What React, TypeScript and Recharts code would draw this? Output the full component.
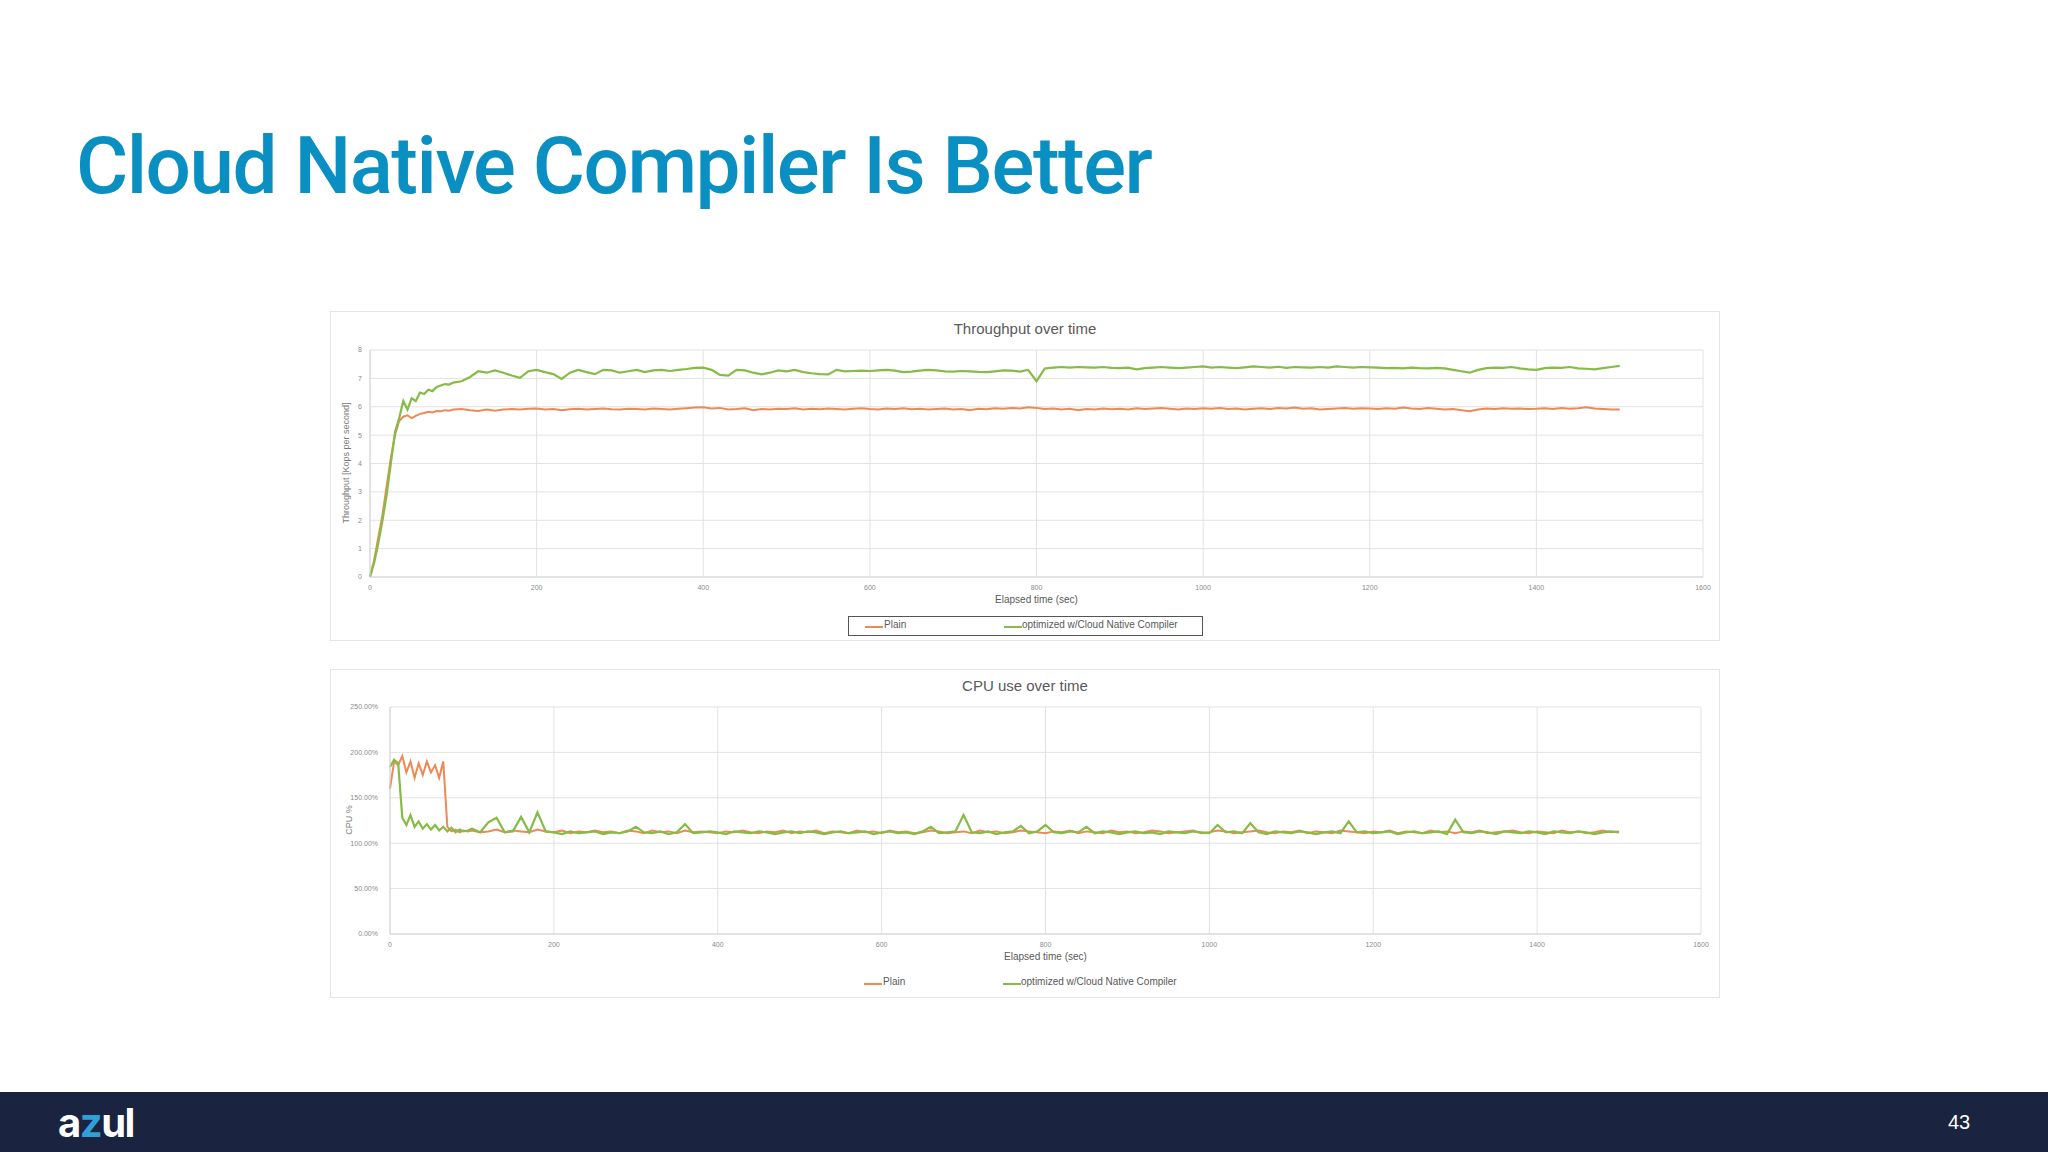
import { LineChart, Line, XAxis, YAxis, CartesianGrid } from "recharts";

// elapsed seconds (5s steps for the ramp-up, then 10s)
const secs = [
  0, 5, 10, 15, 20, 25, 30, 35, 40, 45, 50, 55, 60, 65, 70, 75, 80, 85, 90, 95,
  100, 110, 120, 130, 140, 150, 160, 170, 180, 190,
  200, 210, 220, 230, 240, 250, 260, 270, 280, 290,
  300, 310, 320, 330, 340, 350, 360, 370, 380, 390,
  400, 410, 420, 430, 440, 450, 460, 470, 480, 490,
  500, 510, 520, 530, 540, 550, 560, 570, 580, 590,
  600, 610, 620, 630, 640, 650, 660, 670, 680, 690,
  700, 710, 720, 730, 740, 750, 760, 770, 780, 790,
  800, 810, 820, 830, 840, 850, 860, 870, 880, 890,
  900, 910, 920, 930, 940, 950, 960, 970, 980, 990,
  1000, 1010, 1020, 1030, 1040, 1050, 1060, 1070, 1080, 1090,
  1100, 1110, 1120, 1130, 1140, 1150, 1160, 1170, 1180, 1190,
  1200, 1210, 1220, 1230, 1240, 1250, 1260, 1270, 1280, 1290,
  1300, 1310, 1320, 1330, 1340, 1350, 1360, 1370, 1380, 1390,
  1400, 1410, 1420, 1430, 1440, 1450, 1460, 1470, 1480, 1490,
  1500,
];

// throughput, Kops per second
const tputPlain = [
  0, 0.6, 1.4, 2.2, 3.2, 4.2, 5.0, 5.5, 5.65, 5.7, 5.6, 5.68, 5.75, 5.78, 5.82, 5.8, 5.85, 5.84, 5.88, 5.86,
  5.9, 5.92, 5.88, 5.85, 5.9, 5.86, 5.9, 5.92, 5.9, 5.93,
  5.94, 5.9, 5.92, 5.88, 5.91, 5.93, 5.9, 5.92, 5.94, 5.91,
  5.9, 5.93, 5.92, 5.9, 5.94, 5.92, 5.9, 5.93, 5.95, 5.97,
  5.98, 5.94, 5.96, 5.9, 5.92, 5.95, 5.88, 5.92, 5.9, 5.93,
  5.92, 5.95, 5.9, 5.93, 5.91, 5.94, 5.92, 5.9, 5.93, 5.95,
  5.92, 5.9, 5.94, 5.92, 5.95, 5.91, 5.93, 5.9, 5.92, 5.94,
  5.9, 5.92, 5.88, 5.93, 5.91, 5.95, 5.93, 5.96, 5.94, 5.98,
  5.96, 5.92, 5.94, 5.9, 5.93, 5.88, 5.92, 5.9, 5.94, 5.91,
  5.93, 5.9, 5.95, 5.92, 5.94, 5.96, 5.93, 5.9, 5.94, 5.92,
  5.95, 5.93, 5.96, 5.92, 5.94, 5.9, 5.93, 5.95, 5.92, 5.96,
  5.94, 5.97, 5.93, 5.95, 5.9, 5.92, 5.94, 5.96, 5.93, 5.95,
  5.94, 5.92, 5.95, 5.93, 5.97, 5.94, 5.92, 5.96, 5.93, 5.9,
  5.92, 5.88, 5.84, 5.9, 5.94, 5.92, 5.95, 5.93, 5.94, 5.92,
  5.93, 5.95, 5.92, 5.96, 5.93, 5.95, 5.98, 5.94, 5.92, 5.9,
  5.9,
];

const tputOpt = [
  0, 0.5, 1.2, 2.0, 2.9, 4.0, 5.1, 5.6, 6.2, 5.9, 6.3, 6.2, 6.5, 6.45, 6.6, 6.55, 6.7, 6.75, 6.8, 6.78,
  6.85, 6.9, 7.05, 7.25, 7.2, 7.28, 7.2, 7.1, 7.02, 7.25,
  7.3, 7.22, 7.15, 6.98, 7.2, 7.3, 7.22, 7.15, 7.3, 7.28,
  7.2, 7.25, 7.3, 7.22, 7.28, 7.3, 7.26, 7.3, 7.33, 7.37,
  7.38, 7.3, 7.12, 7.1, 7.3, 7.28, 7.2, 7.14, 7.2, 7.28,
  7.25, 7.3, 7.22, 7.18, 7.15, 7.14, 7.3, 7.25, 7.26, 7.27,
  7.26, 7.28, 7.3, 7.27, 7.22, 7.24, 7.27, 7.3, 7.28, 7.25,
  7.24, 7.26, 7.25, 7.23, 7.22, 7.25, 7.28, 7.27, 7.24, 7.3,
  6.9, 7.35, 7.38, 7.4, 7.38, 7.4, 7.39, 7.38, 7.4, 7.37,
  7.36, 7.38, 7.32, 7.36, 7.38, 7.4, 7.38, 7.36, 7.38, 7.4,
  7.42, 7.38, 7.4, 7.38, 7.36, 7.39, 7.42, 7.4, 7.38, 7.41,
  7.37, 7.4, 7.39, 7.38, 7.4, 7.38, 7.42, 7.4, 7.38, 7.4,
  7.39, 7.38, 7.36, 7.37, 7.35, 7.38, 7.36, 7.35, 7.37, 7.35,
  7.3, 7.25, 7.2, 7.3, 7.36, 7.38, 7.37, 7.4, 7.35, 7.32,
  7.3, 7.36, 7.38, 7.37, 7.4, 7.35, 7.34, 7.32, 7.36, 7.4,
  7.44,
];

// CPU %
const cpuPlain = [
  160, 190, 186, 196, 178, 190, 172, 188, 175, 190, 178, 186, 172, 190, 118, 113, 115, 112, 114, 113,
  114, 112, 113, 115, 112, 114, 113, 112, 115, 113,
  112, 114, 111, 113, 112, 114, 112, 113, 111, 114,
  113, 111, 114, 112, 113, 111, 114, 112, 113, 112,
  111, 113, 112, 114, 112, 111, 113, 112, 114, 111,
  113, 112, 114, 111, 113, 112, 111, 114, 112, 113,
  111, 114, 112, 113, 111, 112, 114, 113, 111, 112,
  113, 111, 114, 112, 113, 111, 112, 114, 113, 112,
  111, 113, 112, 114, 111, 113, 112, 111, 114, 112,
  113, 111, 112, 114, 113, 111, 112, 113, 114, 111,
  112, 114, 113, 111, 112, 113, 114, 112, 111, 113,
  112, 114, 111, 113, 112, 111, 114, 113, 112, 111,
  113, 112, 114, 111, 113, 112, 111, 114, 112, 113,
  111, 113, 112, 114, 111, 112, 113, 114, 112, 111,
  113, 112, 111, 114, 112, 113, 111, 112, 114, 112,
  113,
];

const cpuOpt = [
  184, 192, 188, 128, 120, 131, 118, 124, 116, 121, 115, 120, 114, 118, 113, 117, 112, 115, 113, 114,
  116, 112, 123, 128, 112, 113, 129, 112, 134, 113,
  112, 110, 113, 111, 112, 113, 110, 112, 111, 113,
  118, 112, 111, 113, 110, 112, 121, 111, 112, 113,
  112, 110, 113, 112, 111, 113, 112, 110, 112, 113,
  111, 113, 112, 110, 112, 113, 111, 112, 113, 110,
  112, 113, 111, 112, 110, 113, 118, 111, 112, 113,
  131, 112, 111, 113, 110, 112, 113, 119, 111, 113,
  120, 112, 111, 113, 112, 118, 111, 113, 112, 110,
  112, 113, 111, 112, 110, 113, 112, 111, 113, 112,
  111, 120, 112, 113, 111, 122, 112, 110, 113, 112,
  111, 113, 112, 110, 112, 113, 111, 124, 112, 113,
  111, 112, 113, 110, 112, 113, 111, 112, 113, 110,
  126, 112, 111, 113, 112, 110, 113, 112, 111, 113,
  112, 110, 113, 112, 111, 113, 112, 110, 112, 113,
  112,
];

const xTicks = [0, 200, 400, 600, 800, 1000, 1200, 1400, 1600];
const tputTicks = [0, 1, 2, 3, 4, 5, 6, 7, 8];
const cpuTicks = [0, 50, 100, 150, 200, 250];

const PLAIN = "#ec8a55";
const OPT = "#86bb45";
const GRID = "#e2e2e2";
const TXT = "#595959";
const CHART_FONT = "'Liberation Sans Narrow', 'Liberation Sans', sans-serif";

const tputData = secs.map((t, i) => ({ t, plain: tputPlain[i], opt: tputOpt[i] }));
const cpuData = secs.map((t, i) => ({ t, plain: cpuPlain[i], opt: cpuOpt[i] }));

const tick = { fontSize: 7, fill: "#8a8a8a", fontFamily: CHART_FONT };

function LegendRow({ top, boxed }: { top: number; boxed?: boolean }) {
  return (
    <div
      style={{
        position: "absolute",
        left: 848,
        top,
        width: 355,
        height: 20,
        boxSizing: "border-box",
        border: boxed ? "1.5px solid #555" : "none",
        fontFamily: CHART_FONT,
        fontSize: 10,
        color: TXT,
      }}
    >
      <div style={{ position: "absolute", left: 16, top: 9, width: 18, height: 2, background: PLAIN }} />
      <div style={{ position: "absolute", left: 35, top: 2 }}>Plain</div>
      <div style={{ position: "absolute", left: 155, top: 9, width: 18, height: 2, background: OPT }} />
      <div style={{ position: "absolute", left: 173, top: 2 }}>optimized w/Cloud Native Compiler</div>
    </div>
  );
}

function Panel({ top, height }: { top: number; height: number }) {
  return (
    <div
      style={{
        position: "absolute",
        left: 330,
        top,
        width: 1390,
        height,
        boxSizing: "border-box",
        border: "1.5px solid #e4e4e4",
      }}
    />
  );
}

export default function App() {
  return (
    <div style={{ position: "relative", width: 2048, height: 1152, background: "#fff", overflow: "hidden" }}>
      <style>{`body{margin:0}`}</style>

      <div
        style={{
          position: "absolute",
          left: 76,
          top: 126,
          fontFamily: "Roboto, 'Liberation Sans', sans-serif",
          fontWeight: 500,
          fontSize: 80,
          letterSpacing: -1.5,
          lineHeight: 1,
          color: "#0a8fc3",
          whiteSpace: "nowrap",
        }}
      >
        Cloud Native Compiler Is Better
      </div>

      {/* throughput panel */}
      <Panel top={311} height={330} />
      <div style={{ position: "absolute", left: 330, top: 311 }}>
        <LineChart width={1390} height={330} data={tputData} margin={{ top: 39, right: 17, bottom: 44, left: 0 }}>
          <CartesianGrid stroke={GRID} strokeWidth={1} />
          <XAxis
            dataKey="t"
            type="number"
            domain={[0, 1600]}
            ticks={xTicks}
            tick={tick}
            tickLine={false}
            axisLine={{ stroke: "#d4d4d4" }}
            height={20}
            interval={0}
          />
          <YAxis
            type="number"
            domain={[0, 8]}
            ticks={tputTicks}
            tick={tick}
            tickLine={false}
            axisLine={{ stroke: "#d4d4d4" }}
            width={40}
            tickMargin={2}
            interval={0}
          />
          <Line type="linear" dataKey="plain" stroke={PLAIN} strokeWidth={2} dot={false} isAnimationActive={false} />
          <Line type="linear" dataKey="opt" stroke={OPT} strokeWidth={2.2} dot={false} isAnimationActive={false} />
        </LineChart>
      </div>
      <div style={{ position: "absolute", left: 330, top: 320, width: 1390, textAlign: "center", fontFamily: CHART_FONT, fontSize: 15, color: TXT }}>
        Throughput over time
      </div>
      <div
        style={{
          position: "absolute",
          left: 346,
          top: 463,
          transform: "translate(-50%, -50%) rotate(-90deg)",
          whiteSpace: "nowrap",
          fontFamily: CHART_FONT,
          fontSize: 9,
          lineHeight: 1,
          color: "#7a7a7a",
        }}
      >
        Throughput [Kops per second]
      </div>
      <div style={{ position: "absolute", left: 370, top: 594, width: 1333, textAlign: "center", fontFamily: CHART_FONT, fontSize: 10, color: TXT }}>
        Elapsed time (sec)
      </div>
      <LegendRow top={616} boxed />

      {/* cpu panel */}
      <Panel top={669} height={329} />
      <div style={{ position: "absolute", left: 330, top: 669 }}>
        <LineChart width={1390} height={329} data={cpuData} margin={{ top: 38, right: 19, bottom: 44, left: 0 }}>
          <CartesianGrid stroke={GRID} strokeWidth={1} />
          <XAxis
            dataKey="t"
            type="number"
            domain={[0, 1600]}
            ticks={xTicks}
            tick={tick}
            tickLine={false}
            axisLine={{ stroke: "#d4d4d4" }}
            height={20}
            interval={0}
          />
          <YAxis
            type="number"
            domain={[0, 250]}
            ticks={cpuTicks}
            tick={tick}
            tickFormatter={(v: number) => `${v.toFixed(2)}%`}
            tickLine={false}
            axisLine={{ stroke: "#d4d4d4" }}
            width={60}
            tickMargin={6}
            interval={0}
          />
          <Line type="linear" dataKey="plain" stroke={PLAIN} strokeWidth={2} dot={false} isAnimationActive={false} />
          <Line type="linear" dataKey="opt" stroke={OPT} strokeWidth={2.2} dot={false} isAnimationActive={false} />
        </LineChart>
      </div>
      <div style={{ position: "absolute", left: 330, top: 677, width: 1390, textAlign: "center", fontFamily: CHART_FONT, fontSize: 15, color: TXT }}>
        CPU use over time
      </div>
      <div
        style={{
          position: "absolute",
          left: 349,
          top: 820,
          transform: "translate(-50%, -50%) rotate(-90deg)",
          whiteSpace: "nowrap",
          fontFamily: CHART_FONT,
          fontSize: 9,
          lineHeight: 1,
          color: "#7a7a7a",
        }}
      >
        CPU %
      </div>
      <div style={{ position: "absolute", left: 390, top: 951, width: 1311, textAlign: "center", fontFamily: CHART_FONT, fontSize: 10, color: TXT }}>
        Elapsed time (sec)
      </div>
      <LegendRow top={974} />

      {/* footer */}
      <div style={{ position: "absolute", left: 0, top: 1092, width: 2048, height: 60, background: "#1a2340" }}>
        <div
          style={{
            position: "absolute",
            left: 58,
            top: 6,
            fontFamily: "Inter, 'Liberation Sans', sans-serif",
            fontWeight: 700,
            fontSize: 40,
            letterSpacing: -1.5,
            color: "#fff",
          }}
        >
          a<span style={{ color: "#2f9fd8" }}>z</span>ul
        </div>
        <div
          style={{
            position: "absolute",
            left: 1948,
            top: 19,
            fontFamily: "'Liberation Sans', Arial, sans-serif",
            fontSize: 20,
            color: "#fff",
          }}
        >
          43
        </div>
      </div>
    </div>
  );
}
